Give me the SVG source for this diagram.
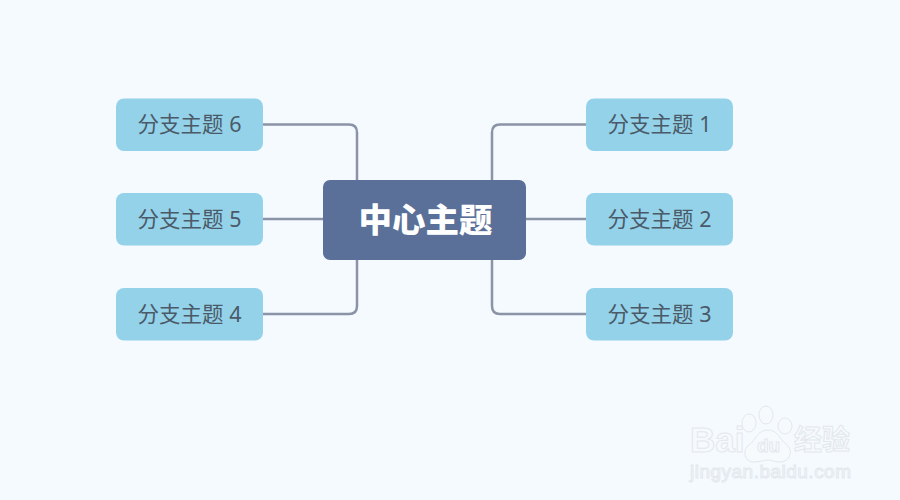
<svg xmlns="http://www.w3.org/2000/svg" width="900" height="500" viewBox="0 0 900 500">
<style>
.b rect{fill:#94d2ea}
.b text{font:21.500px "Noto Sans","Noto Sans CJK SC",sans-serif;fill:#4a5a68;text-anchor:middle}
#connectors path{fill:none;stroke:#8a94a6;stroke-width:2.500}
.w{fill:#f7fafd;stroke:#e3e8ed;stroke-width:1;font-family:"Liberation Sans","Noto Sans CJK SC",sans-serif}
</style>
<rect width="900" height="500" fill="#f5faff"/>
<g id="connectors">
<path d="M263 124.500H349Q357 124.500 357 132.500V180"/>
<path d="M263 219H323"/>
<path d="M263 314H349Q357 314 357 306V260"/>
<path d="M586 124.500H500Q492 124.500 492 132.500V180"/>
<path d="M586 219H526"/>
<path d="M586 314H500Q492 314 492 306V260"/>
</g>
<g id="center"><rect x="323" y="180" width="203" height="80" rx="7" fill="#5a7098"/><text x="425.500" y="232" text-anchor="middle" font-family="'Noto Sans CJK SC',sans-serif" font-weight="900" font-size="33.500" fill="#fff">中心主题</text></g>
<g id="node6" class="b"><rect x="116" y="98.500" width="147" height="52.500" rx="8"/><text x="189.500" y="132">分支主题 6</text></g>
<g id="node5" class="b"><rect x="116" y="193" width="147" height="52.500" rx="8"/><text x="189.500" y="226.500">分支主题 5</text></g>
<g id="node4" class="b"><rect x="116" y="288" width="147" height="52.500" rx="8"/><text x="189.500" y="321.500">分支主题 4</text></g>
<g id="node1" class="b"><rect x="586" y="98.500" width="147" height="52.500" rx="8"/><text x="659.500" y="132">分支主题 1</text></g>
<g id="node2" class="b"><rect x="586" y="193" width="147" height="52.500" rx="8"/><text x="659.500" y="226.500">分支主题 2</text></g>
<g id="node3" class="b"><rect x="586" y="288" width="147" height="52.500" rx="8"/><text x="659.500" y="321.500">分支主题 3</text></g>
<g id="watermark">
<text class="w" x="690" y="452" font-size="35" font-weight="700">Bai</text>
<g fill="#f7fafd" stroke="#e3e8ed"><ellipse cx="749" cy="423" rx="7" ry="9"/><ellipse cx="766" cy="415" rx="7" ry="9"/><ellipse cx="785" cy="426" rx="7" ry="8"/><path d="M768 430c10 0 12 10 18 14 8 6 4 18-6 18-6 0-8-2-12-2s-8 2-14 2c-10 0-12-12-5-17 7-5 8-15 19-15z"/></g>
<text class="w" x="757" y="452" font-size="19" font-weight="700">du</text>
<text class="w" x="794" y="450" font-size="28" font-weight="700">经验</text>
<text class="w" x="690" y="478" font-size="19" textLength="161">jingyan.baidu.com</text>
</g>
</svg>
